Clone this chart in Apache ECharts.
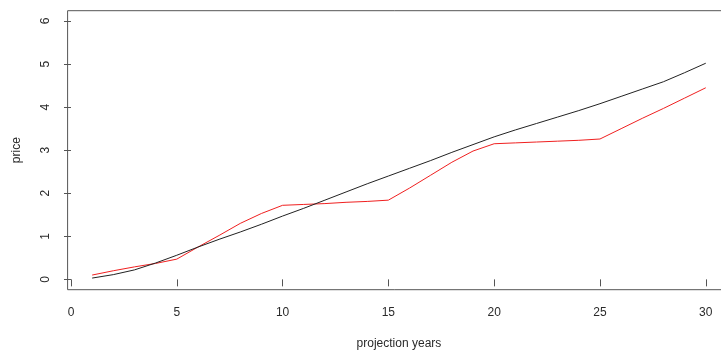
<!DOCTYPE html>
<html>
<head>
<meta charset="utf-8">
<script src="https://cdn.jsdelivr.net/npm/echarts@6/dist/echarts.min.js"></script>
<style>
html,body{margin:0;padding:0;background:#fff;}
#chart{width:721px;height:352px;}
</style>
</head>
<body>
<div id="chart"></div>
<script>
var years = [1,2,3,4,5,6,7,8,9,10,11,12,13,14,15,16,17,18,19,20,21,22,23,24,25,26,27,28,29,30];
var blackValues = [0.03,0.11,0.22,0.38,0.56,0.75,0.93,1.10,1.28,1.47,1.65,1.84,2.03,2.22,2.40,2.58,2.76,2.95,3.13,3.31,3.47,3.62,3.77,3.92,4.08,4.25,4.42,4.59,4.80,5.02];
var redValues = [0.10,0.20,0.29,0.37,0.47,0.75,1.02,1.30,1.53,1.72,1.74,1.76,1.79,1.81,1.84,2.12,2.42,2.72,2.98,3.15,3.17,3.19,3.21,3.23,3.26,3.50,3.74,3.97,4.21,4.45];
var xTicks = [0,5,10,15,20,25,30];
var yTicks = [0,1,2,3,4,5,6];
var xTitle = 'projection years';
var yTitle = 'price';

function pairs(xs, ys){ return xs.map(function(x,i){ return [x, ys[i]]; }); }

var chart = echarts.init(document.getElementById('chart'), null, {renderer:'canvas'});
var font = '"Liberation Sans", Arial, sans-serif';
chart.setOption({
  animation:false,
  backgroundColor:'#ffffff',
  grid:{left:67.6, top:10.7, width:662.7, height:279, show:true, borderColor:'#555', borderWidth:1, containLabel:false, outerBoundsMode:'none'},
  xAxis:{
    type:'value', min:-0.16, max:31.16,
    splitLine:{show:false},
    axisLine:{show:false},
    axisTick:{show:true, inside:false, length:7, lineStyle:{color:'#555'}, customValues:xTicks},
    axisLabel:{customValues:xTicks, margin:17, color:'#2a2a2a', fontSize:12, fontFamily:font},
    name:xTitle, nameLocation:'middle', nameGap:48,
    nameTextStyle:{color:'#2a2a2a', fontSize:12, fontFamily:font}
  },
  yAxis:{
    type:'value', min:-0.24, max:6.24,
    splitLine:{show:false},
    axisLine:{show:false},
    axisTick:{show:true, inside:false, length:7, lineStyle:{color:'#555'}, customValues:yTicks},
    axisLabel:{customValues:yTicks, rotate:90, margin:16, color:'#2a2a2a', fontSize:12, fontFamily:font},
    name:yTitle, nameLocation:'middle', nameGap:45, nameRotate:90,
    nameTextStyle:{color:'#2a2a2a', fontSize:12, fontFamily:font}
  },
  series:[
    {type:'line', data:pairs(years, blackValues), showSymbol:false, symbol:'none', lineStyle:{color:'#222', width:1}, z:3},
    {type:'line', data:pairs(years, redValues), showSymbol:false, symbol:'none', lineStyle:{color:'#f02020', width:1}, z:2}
  ]
});
</script>
</body>
</html>
